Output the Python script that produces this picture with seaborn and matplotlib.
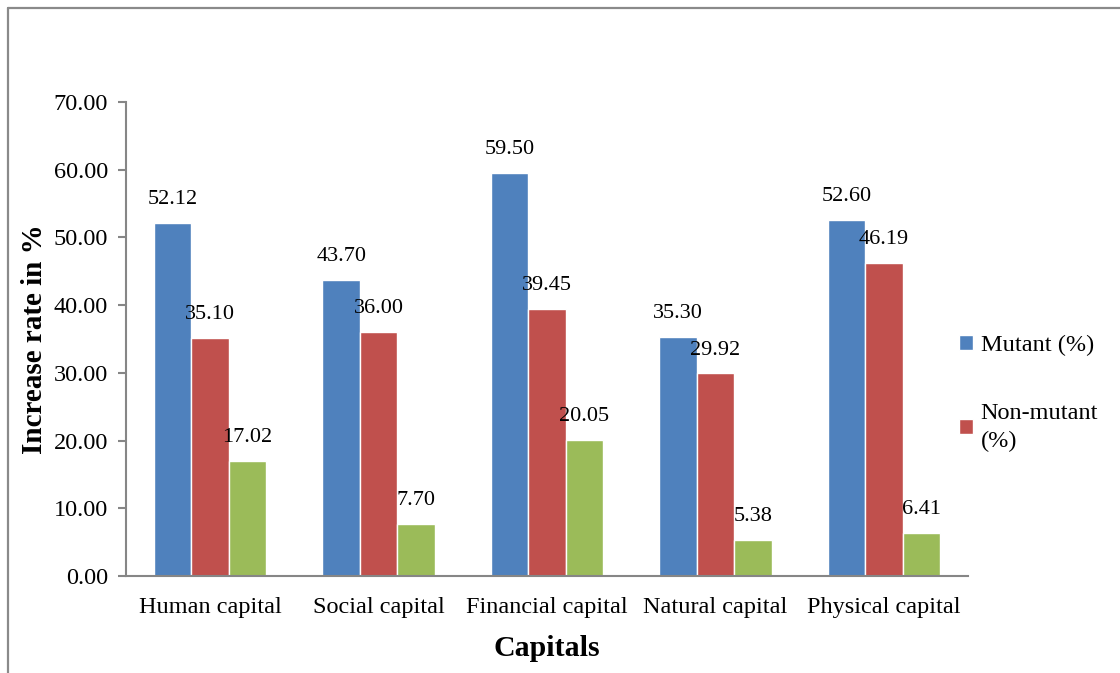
import matplotlib
matplotlib.use("Agg")
import matplotlib.pyplot as plt
import seaborn as sns
import pandas as pd
from matplotlib.lines import Line2D

categories = ["Human capital", "Social capital", "Financial capital", "Natural capital", "Physical capital"]
mutant = [52.12, 43.70, 59.50, 35.30, 52.60]
non_mutant = [35.10, 36.00, 39.45, 29.92, 46.19]
difference = [17.02, 7.70, 20.05, 5.38, 6.41]
series_names = ["Mutant (%)", "Non-mutant\n(%)", "Difference (%)"]
colors = ["#4F81BD", "#C0504D", "#9BBB59"]
yticks = [0, 10, 20, 30, 40, 50, 60, 70]

rows = []
for s, vals in zip(series_names, [mutant, non_mutant, difference]):
    for c, v in zip(categories, vals):
        rows.append({"Capitals": c, "value": v, "series": s})
df = pd.DataFrame(rows)

sns.set_style("white")
plt.rcParams["font.family"] = ["Liberation Serif", "DejaVu Serif"]
plt.rcParams["text.color"] = "#000000"
plt.rcParams["xtick.color"] = "#000000"
plt.rcParams["ytick.color"] = "#000000"
plt.rcParams["axes.labelcolor"] = "#000000"

fig = plt.figure(figsize=(11.2, 6.73), dpi=100)
ax = fig.add_axes([126/1120, 1-576/673, (968-126)/1120, (576-102)/673])

sns.barplot(data=df, x="Capitals", y="value", hue="series", palette=colors,
            width=0.667, ax=ax, saturation=1, dodge=True, legend=True)

for cont in ax.containers:
    for bar in cont:
        h = bar.get_height()
        ax.annotate(f"{h:.2f}", (bar.get_x() + bar.get_width()/2, h),
                    xytext=(0, 10), textcoords="offset points",
                    ha="center", va="bottom", fontsize=16)

ax.set_ylim(0, 70)
ax.set_yticks(yticks)
ax.set_yticklabels([f"{t:.2f}" for t in yticks], fontsize=17.5)
ax.set_xlim(-0.5, 4.5)
ax.tick_params(axis="x", labelsize=17.5, length=0, pad=15)
ax.tick_params(axis="y", length=6, width=1.5, color="#868686", direction="out", left=True, pad=7)
for sp in ["top", "right"]:
    ax.spines[sp].set_visible(False)
for sp in ["left", "bottom"]:
    ax.spines[sp].set_color("#868686")
    ax.spines[sp].set_linewidth(1.5)

ax.set_xlabel("Capitals", fontsize=21.5, fontweight="bold", labelpad=12)
ax.set_ylabel("Increase rate in %", fontsize=21, fontweight="bold", labelpad=4)

handles, labels = ax.get_legend_handles_labels()
leg = ax.legend(handles[:2], labels[:2], loc="center left", bbox_to_anchor=(0.963, 0.385),
                frameon=False, fontsize=17.5, handlelength=0.6, handleheight=0.6,
                handletextpad=0.3, labelspacing=1.9)
for t in leg.get_texts():
    t.set_linespacing(1.45)

# outer chart-area border (cropped)
fig.add_artist(Line2D([8/1120, 8/1120], [-0.01, 1-7.5/673], transform=fig.transFigure,
                      color="#8a8a8a", lw=1.6))
fig.add_artist(Line2D([8/1120, 1.01], [1-7.5/673, 1-7.5/673], transform=fig.transFigure,
                      color="#8a8a8a", lw=1.6))

fig.savefig("out.png", dpi=100)
